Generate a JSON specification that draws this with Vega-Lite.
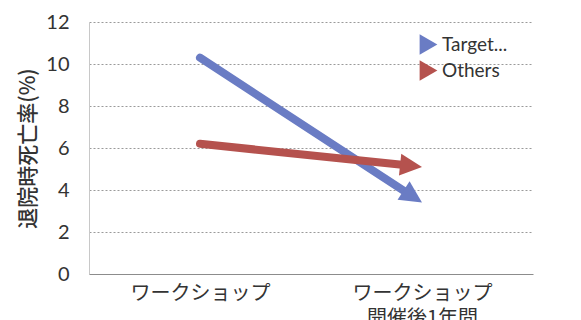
{
  "$schema": "https://vega.github.io/schema/vega-lite/v6.json",
  "width": 444,
  "height": 252,
  "autosize": {"type": "none"},
  "padding": {"left": 89, "top": 22, "right": 48, "bottom": 46},
  "background": "white",
  "config": {"view": {"stroke": null}},
  "data": {
    "values": [
      {"period": "ワークショップ", "series": "Target...", "rate": 10.3},
      {"period": "ワークショップ開催後1年間", "series": "Target...", "rate": 3.4},
      {"period": "ワークショップ", "series": "Others", "rate": 6.2},
      {"period": "ワークショップ開催後1年間", "series": "Others", "rate": 5.1}
    ]
  },
  "encoding": {
    "x": {
      "field": "period",
      "type": "nominal",
      "sort": ["ワークショップ", "ワークショップ開催後1年間"],
      "scale": {"type": "point", "padding": 0.5},
      "axis": {
        "title": null,
        "labelAngle": 0,
        "ticks": false,
        "labelPadding": 9,
        "labelFont": "Noto Sans CJK JP",
        "labelFontSize": 20,
        "labelColor": "#333333",
        "labelBaseline": "top",
        "labelLineHeight": 25,
        "labelExpr": "datum.value == 'ワークショップ開催後1年間' ? ['ワークショップ', '開催後1年間'] : datum.value",
        "domainColor": "#8c8c8c",
        "domainWidth": 1,
        "grid": false
      }
    },
    "y": {
      "field": "rate",
      "type": "quantitative",
      "scale": {"domain": [0, 12], "nice": false},
      "axis": {
        "title": "退院時死亡率(%)",
        "titleFont": "Noto Sans CJK JP",
        "titleFontSize": 21,
        "titleFontWeight": 500,
        "titleColor": "#333333",
        "titlePadding": 7,
        "values": [0, 2, 4, 6, 8, 10, 12],
        "ticks": false,
        "labelFont": "Lato",
        "labelFontSize": 20,
        "labelColor": "#333333",
        "labelPadding": 20,
        "domainColor": "#c8c8c8",
        "grid": true,
        "gridColor": "#9a9a9a",
        "gridDash": [2, 2],
        "gridWidth": 1
      }
    }
  },
  "layer": [
    {
      "mark": {"type": "line", "strokeWidth": 8, "strokeCap": "round"},
      "encoding": {
        "stroke": {
          "field": "series",
          "type": "nominal",
          "scale": {"range": ["#b5524e", "#6a7cc4"]},
          "legend": null
        },
        "strokeDash": {
          "field": "series",
          "type": "nominal",
          "scale": {"range": [[208, 1000], [250, 1000]]},
          "legend": null
        }
      }
    },
    {
      "transform": [{"filter": "datum.series == 'Target...' && datum.period == 'ワークショップ開催後1年間'"}],
      "mark": {"type": "point", "shape": "M0,0L-2,-1L-2,1Z", "size": 484, "filled": true, "opacity": 1, "strokeWidth": 0, "angle": 33.1},
      "encoding": {
        "fill": {
          "field": "series",
          "type": "nominal",
          "scale": {"domain": ["Target...", "Others"], "range": ["#6a7cc4", "#b5524e"]},
          "legend": {
            "title": null,
            "orient": "none",
            "legendX": 329,
            "legendY": 12,
            "symbolType": "triangle-right",
            "symbolSize": 420,
            "symbolStrokeWidth": 0,
            "labelFont": "Lato",
            "labelFontSize": 19,
            "labelColor": "#333333",
            "labelOffset": 3,
            "rowPadding": 5
          }
        }
      }
    },
    {
      "transform": [{"filter": "datum.series == 'Others' && datum.period == 'ワークショップ開催後1年間'"}],
      "mark": {"type": "point", "shape": "M0,0L-2,-1L-2,1Z", "size": 484, "filled": true, "opacity": 1, "strokeWidth": 0, "angle": 5.94},
      "encoding": {
        "fill": {
          "field": "series",
          "type": "nominal",
          "scale": {"domain": ["Target...", "Others"], "range": ["#6a7cc4", "#b5524e"]},
          "legend": {
            "title": null,
            "orient": "none",
            "legendX": 329,
            "legendY": 12,
            "symbolType": "triangle-right",
            "symbolSize": 420,
            "symbolStrokeWidth": 0,
            "labelFont": "Lato",
            "labelFontSize": 19,
            "labelColor": "#333333",
            "labelOffset": 3,
            "rowPadding": 5
          }
        }
      }
    }
  ]
}
